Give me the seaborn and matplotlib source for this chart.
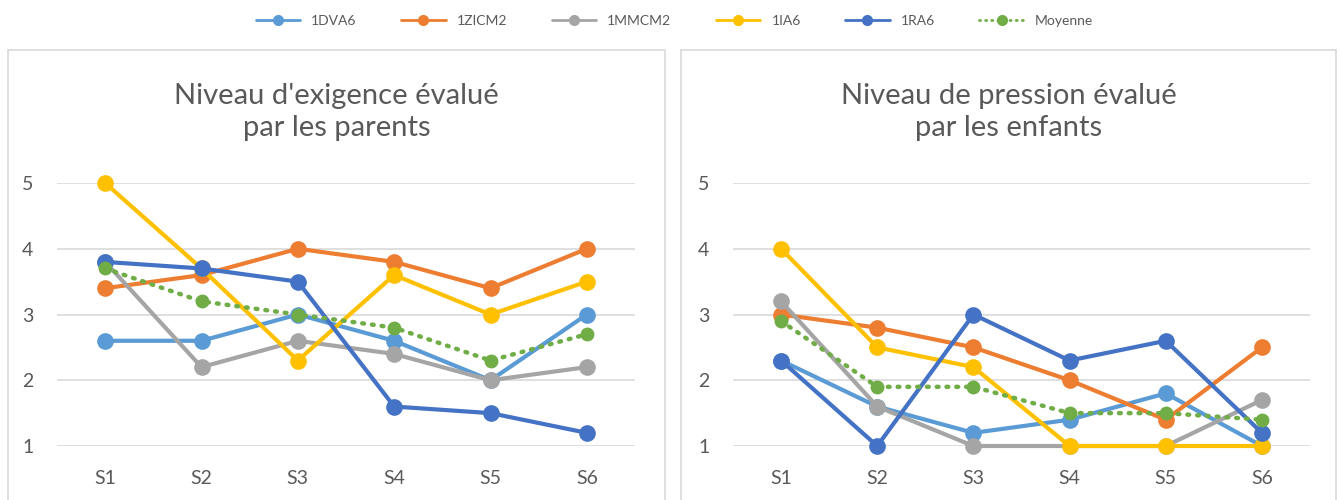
import matplotlib
matplotlib.use("Agg")
import matplotlib.pyplot as plt
from matplotlib.patches import Rectangle
import pandas as pd
import seaborn as sns

# Sessions on the x axis
sessions = ["S1", "S2", "S3", "S4", "S5", "S6"]
series_names = ["1DVA6", "1ZICM2", "1MMCM2", "1IA6", "1RA6", "Moyenne"]

# Niveau d'exigence évalué par les parents
parents_1dva6 = [2.6, 2.6, 3.0, 2.6, 2.0, 3.0]
parents_1zicm2 = [3.4, 3.6, 4.0, 3.8, 3.4, 4.0]
parents_1mmcm2 = [3.8, 2.2, 2.6, 2.4, 2.0, 2.2]
parents_1ia6 = [5.0, 3.7, 2.3, 3.6, 3.0, 3.5]
parents_1ra6 = [3.8, 3.7, 3.5, 1.6, 1.5, 1.2]
parents_moyenne = [3.7, 3.2, 3.0, 2.8, 2.3, 2.7]

# Niveau de pression évalué par les enfants
enfants_1dva6 = [2.3, 1.6, 1.2, 1.4, 1.8, 1.0]
enfants_1zicm2 = [3.0, 2.8, 2.5, 2.0, 1.4, 2.5]
enfants_1mmcm2 = [3.2, 1.6, 1.0, 1.0, 1.0, 1.7]
enfants_1ia6 = [4.0, 2.5, 2.2, 1.0, 1.0, 1.0]
enfants_1ra6 = [2.3, 1.0, 3.0, 2.3, 2.6, 1.2]
enfants_moyenne = [2.9, 1.9, 1.9, 1.5, 1.5, 1.4]

y_ticks = [1, 2, 3, 4, 5]

panels = [
    ("Niveau d'exigence évalué\npar les parents",
     [parents_1dva6, parents_1zicm2, parents_1mmcm2, parents_1ia6, parents_1ra6, parents_moyenne]),
    ("Niveau de pression évalué\npar les enfants",
     [enfants_1dva6, enfants_1zicm2, enfants_1mmcm2, enfants_1ia6, enfants_1ra6, enfants_moyenne]),
]

colors = {
    "1DVA6": "#5B9BD5",
    "1ZICM2": "#ED7D31",
    "1MMCM2": "#A5A5A5",
    "1IA6": "#FFC000",
    "1RA6": "#4472C4",
    "Moyenne": "#70AD47",
}

sns.set_theme(style="white")
plt.rcParams["font.family"] = ["Lato", "DejaVu Sans"]

W, H = 1341, 500
fig = plt.figure(figsize=(W / 100, H / 100), dpi=100)
fig.patch.set_facecolor("white")

text_color = "#595959"
grid_color = "#D9D9D9"

# axes boxes in pixels: (left, right), shared vertical span
ax_boxes = [(57, 635), (733, 1310)]
frame_boxes = [(8, 665), (681, 1336)]
y_top_px, y_bot_px = 183, 446

axes = []
for (title, values), (x0, x1), (f0, f1) in zip(panels, ax_boxes, frame_boxes):
    # panel frame
    fig.patches.append(Rectangle((f0 / W, -0.05), (f1 - f0) / W, 1.05 - 50 / H,
                                 transform=fig.transFigure, fill=False,
                                 edgecolor=grid_color, linewidth=1.2))
    ax = fig.add_axes([x0 / W, 1 - y_bot_px / H, (x1 - x0) / W, (y_bot_px - y_top_px) / H])
    axes.append(ax)
    df = pd.DataFrame({
        "session": sessions * len(series_names),
        "valeur": [v for vals in values for v in vals],
        "serie": [name for name in series_names for _ in sessions],
    })
    df["pos"] = df["session"].map({s: i for i, s in enumerate(sessions)})
    for name in series_names:
        sub = df[df["serie"] == name]
        if name == "Moyenne":
            sns.lineplot(data=sub, x="pos", y="valeur", ax=ax, color=colors[name],
                         linewidth=3.2, linestyle=(0, (0.4, 1.8)), dash_capstyle="round",
                         marker="o", markersize=10, markeredgewidth=0,
                         label=name, clip_on=False, zorder=5)
        else:
            sns.lineplot(data=sub, x="pos", y="valeur", ax=ax, color=colors[name],
                         linewidth=3, marker="o", markersize=12, markeredgewidth=0,
                         label=name, clip_on=False, zorder=3)
    ax.set_xlim(-0.5, len(sessions) - 0.5)
    ax.set_ylim(1, 5)
    ax.set_xticks(range(len(sessions)))
    ax.set_xticklabels(sessions)
    ax.set_yticks(y_ticks)
    ax.set_xlabel("")
    ax.set_ylabel("")
    for y in y_ticks:
        ax.axhline(y, color=grid_color, linewidth=1.2, zorder=0)
    for s in ax.spines.values():
        s.set_visible(False)
    ax.tick_params(axis="both", length=0, labelsize=14, colors=text_color)
    ax.tick_params(axis="x", pad=17)
    ax.tick_params(axis="y", pad=17)
    ax.legend_.remove()
    fig.text(((f0 + f1) / 2) / W, 1 - 112 / H, title, ha="center", va="center",
             fontsize=21, color=text_color, linespacing=1.3)

handles, labels = axes[0].get_legend_handles_labels()
leg = fig.legend(handles, labels, loc="center", bbox_to_anchor=(0.503, 1 - 21 / H),
                 ncol=6, frameon=False, fontsize=10, handlelength=3.2,
                 columnspacing=3.2, handletextpad=0.8, labelcolor=text_color)
for h in leg.legend_handles:
    h.set_markersize(8)
    h.set_linewidth(2)

fig.savefig("out.png", dpi=100, facecolor="white")
